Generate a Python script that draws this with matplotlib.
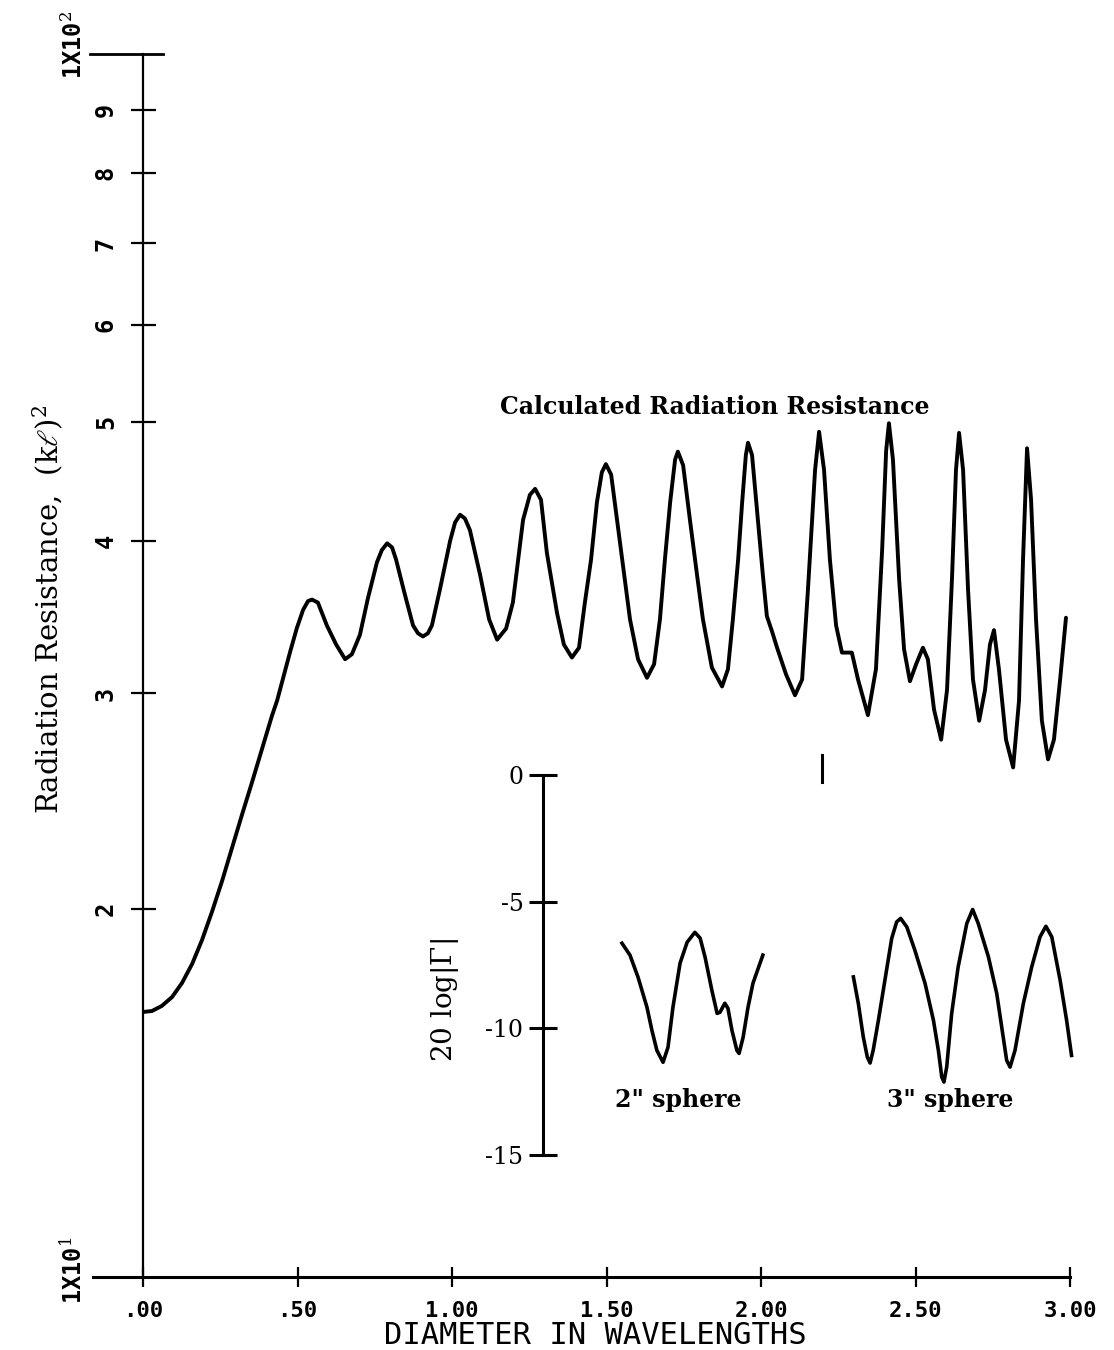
import matplotlib
matplotlib.use("Agg")
import matplotlib.pyplot as plt
from matplotlib.ticker import FixedLocator, NullLocator

# Calculated radiation resistance vs. sphere diameter (in wavelengths)
diameter = [
    0.000, 0.029, 0.061, 0.094, 0.126, 0.159, 0.191, 0.223, 0.256, 0.288,
    0.320, 0.353, 0.385, 0.417, 0.434, 0.450, 0.463, 0.476, 0.498, 0.518,
    0.534, 0.547,
    0.566, 0.595, 0.625, 0.654, 0.676, 0.702, 0.728, 0.757, 0.773, 0.790,
    0.806, 0.819, 0.848, 0.874, 0.890, 0.906, 0.922, 0.935, 0.961, 0.994,
    1.010, 1.026, 1.042, 1.058, 1.091, 1.120, 1.146, 1.175, 1.197, 1.230,
    1.252, 1.269, 1.288, 1.307, 1.340, 1.362, 1.388, 1.411, 1.430, 1.450,
    1.469, 1.485, 1.498, 1.515, 1.534, 1.557, 1.576, 1.602, 1.631, 1.654,
    1.673, 1.689, 1.706, 1.722, 1.731, 1.748, 1.770, 1.793, 1.812, 1.841,
    1.874, 1.893, 1.909, 1.926, 1.939, 1.951, 1.958, 1.971, 1.990, 2.006,
    2.019, 2.036, 2.052, 2.081, 2.110, 2.133, 2.152, 2.175, 2.188, 2.204,
    2.223, 2.243, 2.262, 2.294, 2.314, 2.346, 2.372, 2.392, 2.405, 2.414,
    2.427, 2.447, 2.463, 2.482, 2.502, 2.524, 2.540, 2.560, 2.583, 2.602,
    2.618, 2.631, 2.641, 2.654, 2.670, 2.686, 2.706, 2.725, 2.741, 2.754,
    2.770, 2.793, 2.816, 2.835, 2.848, 2.861, 2.874, 2.890, 2.909, 2.929,
    2.948, 2.968, 2.987,
]
resistance = [
    16.47, 16.50, 16.66, 16.94, 17.39, 18.03, 18.86, 19.88, 21.08, 22.43,
    23.86, 25.39, 27.02, 28.75, 29.60, 30.66, 31.53, 32.44, 33.94, 35.11,
    35.70, 35.80,
    35.6, 34.1, 32.9, 32.0, 32.3, 33.5, 35.9, 38.4, 39.3, 39.8,
    39.5, 38.6, 36.1, 34.1, 33.6, 33.4, 33.6, 34.1, 36.5, 40.0,
    41.4, 42.0, 41.7, 40.8, 37.5, 34.5, 33.2, 33.9, 35.6, 41.6,
    43.6, 44.1, 43.2, 39.1, 34.9, 32.9, 32.1, 32.7, 35.6, 38.6,
    43.0, 45.5, 46.2, 45.3, 41.6, 37.5, 34.5, 32.0, 30.9, 31.7,
    34.5, 38.6, 43.0, 46.6, 47.3, 46.1, 41.6, 37.5, 34.5, 31.5,
    30.4, 31.4, 34.5, 38.6, 43.0, 47.0, 48.1, 47.0, 41.6, 37.5,
    34.7, 33.7, 32.7, 31.1, 29.9, 30.8, 36.5, 45.7, 49.1, 45.7,
    38.6, 34.1, 32.4, 32.4, 30.8, 28.8, 31.4, 39.3, 47.4, 49.9,
    46.6, 37.2, 32.6, 30.7, 31.7, 32.7, 32.0, 29.1, 27.5, 30.2,
    37.2, 45.7, 49.0, 45.7, 36.5, 30.8, 28.5, 30.2, 32.9, 33.8,
    31.4, 27.5, 26.1, 29.6, 38.6, 47.6, 43.2, 34.5, 28.5, 26.5,
    27.5, 30.8, 34.6,
]

# Measured reflection coefficient, 20 log|Gamma| (dB)
sphere2_x = [1.550, 1.576, 1.602, 1.631, 1.647, 1.663, 1.683, 1.699, 1.715,
             1.738, 1.761, 1.786, 1.803, 1.819, 1.841, 1.858, 1.867, 1.883,
             1.893, 1.906, 1.922, 1.929, 1.942, 1.958, 1.974, 2.006]
sphere2_db = [-6.64, -7.11, -7.98, -9.17, -10.08, -10.87, -11.34, -10.75, -9.17,
              -7.43, -6.60, -6.21, -6.44, -7.19, -8.50, -9.41, -9.37, -9.01,
              -9.21, -10.08, -10.87, -10.99, -10.36, -9.17, -8.22, -7.11]
sphere3_x = [2.299, 2.315, 2.331, 2.344, 2.353, 2.363, 2.380, 2.401, 2.423,
             2.439, 2.452, 2.472, 2.498, 2.531, 2.558, 2.574, 2.585, 2.592,
             2.601, 2.617, 2.638, 2.666, 2.685, 2.703, 2.736, 2.763, 2.779,
             2.795, 2.806, 2.822, 2.849, 2.876, 2.903, 2.922, 2.941, 2.968,
             2.989, 3.005]
sphere3_db = [-7.97, -9.02, -10.34, -11.13, -11.37, -10.87, -9.68, -8.10, -6.45,
              -5.80, -5.66, -6.00, -6.92, -8.23, -9.68, -10.87, -11.92, -12.12,
              -11.53, -9.42, -7.58, -5.86, -5.31, -5.86, -7.18, -8.63, -9.95,
              -11.26, -11.53, -10.87, -9.02, -7.58, -6.39, -5.97, -6.39, -8.10,
              -9.68, -11.07]

x_ticks = [0.0, 0.5, 1.0, 1.5, 2.0, 2.5, 3.0]
x_tick_labels = [".00", ".50", "1.00", "1.50", "2.00", "2.50", "3.00"]
y_ticks = [20, 30, 40, 50, 60, 70, 80, 90]
y_tick_labels = ["2", "3", "4", "5", "6", "7", "8", "9"]
inset_ticks = [0, -5, -10, -15]
inset_tick_labels = ["0", "-5", "-10", "-15"]
inset_axis_x = 1.294

plt.rcParams["mathtext.fontset"] = "dejavuserif"

W, H = 1114, 1350
fig = plt.figure(figsize=(W / 100, H / 100), dpi=100)
fig.patch.set_facecolor("white")


def fpos(px, py):
    return px / W, 1 - py / H


# ---- main log axes ----
ax = fig.add_axes([143 / W, 73 / H, 927 / W, 1223 / H])
ax.set_yscale("log")
ax.set_xlim(0, 3)
ax.set_ylim(10, 100)
ax.patch.set_alpha(0)
for side in ["top", "right", "bottom"]:
    ax.spines[side].set_visible(False)
ax.spines["left"].set_linewidth(1.6)

ax.plot(diameter, resistance, color="black", lw=2.8,
        solid_joinstyle="round", solid_capstyle="round")
ax.plot([2.197, 2.197], [25.4, 26.7], color="black", lw=2.2)

# extended baseline and top cap
ax.plot([-0.162, 3.0], [10, 10], color="black", lw=2.2, clip_on=False)
ax.plot([-0.172, 0.065], [100, 100], color="black", lw=2.0, clip_on=False)

ax.yaxis.set_major_locator(FixedLocator(y_ticks))
ax.yaxis.set_minor_locator(NullLocator())
ax.set_yticklabels(y_tick_labels, rotation=90, va="center",
                   family="DejaVu Sans Mono", weight="bold", fontsize=17)
ax.tick_params(axis="y", direction="inout", length=18, width=1.6, pad=9)

ax.set_xticks(x_ticks)
ax.set_xticklabels(x_tick_labels, family="DejaVu Sans Mono",
                   weight="bold", fontsize=16)
ax.tick_params(axis="x", direction="inout", length=14, width=1.6, pad=10)

fig.text(*fpos(74, 45), "1X10$^{2}$", rotation=90, ha="center", va="center",
         family="DejaVu Sans Mono", weight="bold", fontsize=17)
fig.text(*fpos(73, 1270), "1X10$^{1}$", rotation=90, ha="center", va="center",
         family="DejaVu Sans Mono", weight="bold", fontsize=17)

fig.text(*fpos(595, 1336), "DIAMETER IN WAVELENGTHS", ha="center",
         va="center", family="DejaVu Sans Mono", fontsize=22)
fig.text(*fpos(48, 609), "Radiation Resistance,  (k$\\ell$)$^2$",
         rotation=90, ha="center", va="center", family="DejaVu Serif",
         fontsize=21)
fig.text(*fpos(715, 407), "Calculated Radiation Resistance", ha="center",
         va="center", family="DejaVu Serif", weight="bold", fontsize=17)

# ---- inset: measured reflection ----
ax_in = fig.add_axes([143 / W, 195 / H, 927 / W, 380 / H])
ax_in.set_xlim(0, 3)
ax_in.set_ylim(-15, 0)
ax_in.patch.set_alpha(0)
for side in ["top", "right", "bottom"]:
    ax_in.spines[side].set_visible(False)
ax_in.spines["left"].set_position(("data", inset_axis_x))
ax_in.spines["left"].set_linewidth(2.2)
ax_in.set_xticks([])
ax_in.set_yticks(inset_ticks)
ax_in.set_yticklabels(inset_tick_labels, family="DejaVu Serif", fontsize=17)
ax_in.tick_params(axis="y", direction="inout", length=20, width=2.2, pad=4)

ax_in.plot(sphere2_x, sphere2_db, color="black", lw=2.6,
           solid_joinstyle="round", clip_on=False)
ax_in.plot(sphere3_x, sphere3_db, color="black", lw=2.6,
           solid_joinstyle="round", clip_on=False)

fig.text(*fpos(445, 1000), "20 log$|\\mathit{\\Gamma}|$", rotation=90,
         ha="center", va="center", family="DejaVu Serif", fontsize=20)
fig.text(*fpos(678, 1100), "2\" sphere", ha="center", va="center",
         family="DejaVu Serif", weight="bold", fontsize=17)
fig.text(*fpos(950, 1100), "3\" sphere", ha="center", va="center",
         family="DejaVu Serif", weight="bold", fontsize=17)

fig.savefig("out.png", dpi=100, facecolor="white")
